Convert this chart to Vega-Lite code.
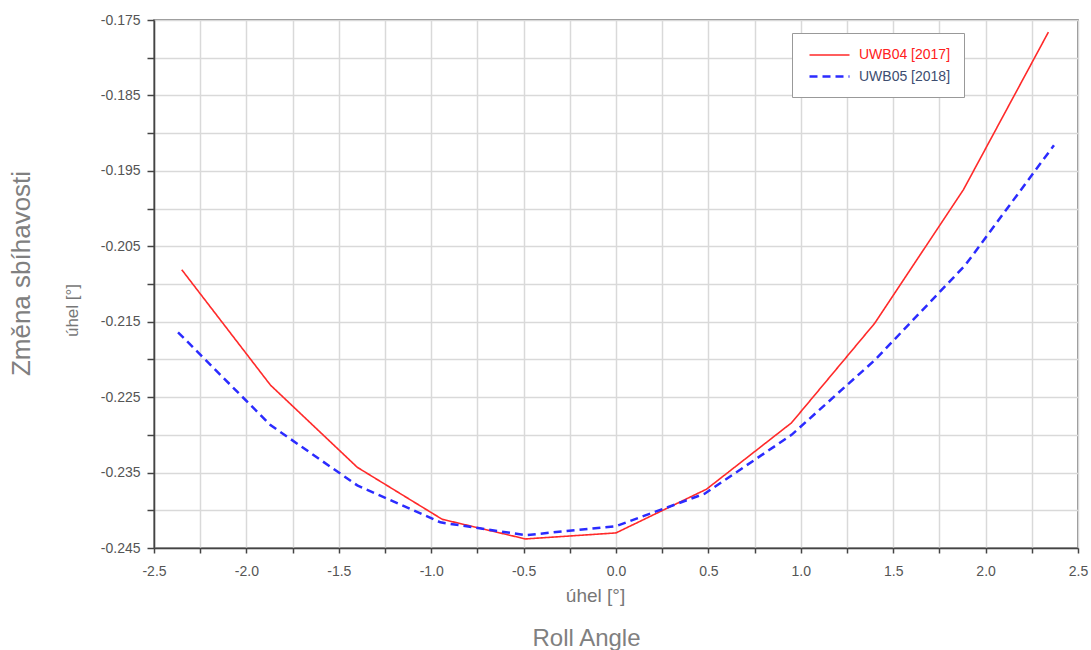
{
  "$schema": "https://vega.github.io/schema/vega-lite/v6.json",
  "width": 924,
  "height": 528,
  "autosize": "none",
  "padding": {"left": 154, "top": 20, "right": 13, "bottom": 102},
  "background": "white",
  "config": {
    "font": "Liberation Sans",
    "view": {"stroke": "#666666", "strokeWidth": 1.5},
    "axis": {"labelFont": "Liberation Sans", "titleFont": "Liberation Sans", "titleFontWeight": "normal"}
  },
  "data": {
    "values": [
      {"x": -2.35, "y": -0.2081, "series": "UWB04 [2017]"},
      {"x": -1.87, "y": -0.2234, "series": "UWB04 [2017]"},
      {"x": -1.40, "y": -0.2343, "series": "UWB04 [2017]"},
      {"x": -0.94, "y": -0.2412, "series": "UWB04 [2017]"},
      {"x": -0.49, "y": -0.2438, "series": "UWB04 [2017]"},
      {"x": 0.00, "y": -0.2430, "series": "UWB04 [2017]"},
      {"x": 0.49, "y": -0.2372, "series": "UWB04 [2017]"},
      {"x": 0.95, "y": -0.2284, "series": "UWB04 [2017]"},
      {"x": 1.40, "y": -0.2152, "series": "UWB04 [2017]"},
      {"x": 1.88, "y": -0.1975, "series": "UWB04 [2017]"},
      {"x": 2.34, "y": -0.1766, "series": "UWB04 [2017]"},
      {"x": -2.37, "y": -0.2164, "series": "UWB05 [2018]"},
      {"x": -1.87, "y": -0.2287, "series": "UWB05 [2018]"},
      {"x": -1.40, "y": -0.2367, "series": "UWB05 [2018]"},
      {"x": -0.95, "y": -0.2416, "series": "UWB05 [2018]"},
      {"x": -0.49, "y": -0.2433, "series": "UWB05 [2018]"},
      {"x": 0.00, "y": -0.2421, "series": "UWB05 [2018]"},
      {"x": 0.48, "y": -0.2378, "series": "UWB05 [2018]"},
      {"x": 0.95, "y": -0.2300, "series": "UWB05 [2018]"},
      {"x": 1.40, "y": -0.2201, "series": "UWB05 [2018]"},
      {"x": 1.89, "y": -0.2075, "series": "UWB05 [2018]"},
      {"x": 2.37, "y": -0.1916, "series": "UWB05 [2018]"}
    ]
  },
  "resolve": {"axis": {"x": "independent", "y": "independent"}},
  "layer": [
    {
      "mark": {"type": "line", "clip": true},
      "encoding": {
        "x": {
          "field": "x", "type": "quantitative",
          "scale": {"domain": [-2.5, 2.5], "nice": false, "zero": false},
          "axis": {
            "orient": "bottom",
            "values": [-2.5, -2.25, -2, -1.75, -1.5, -1.25, -1, -0.75, -0.5, -0.25, 0, 0.25, 0.5, 0.75, 1, 1.25, 1.5, 1.75, 2, 2.25, 2.5],
            "format": ".1f",
            "labelExpr": "abs(round(datum.value*100)) % 50 == 0 ? replace(datum.label, '\u2212', '-') : ''",
            "title": "úhel [°]",
            "titleX": 441,
            "tickSize": 5, "tickColor": "#444444", "tickWidth": 1.5,
            "domainColor": "#444444", "domainWidth": 1.5,
            "labelFontSize": 14, "labelColor": "#555555", "labelPadding": 11,
            "labelFlush": false, "labelOverlap": false,
            "titleFontSize": 19, "titleColor": "#777777", "titlePadding": 8,
            "gridColor": "#d9d9d9", "gridWidth": 1.5
          }
        },
        "y": {
          "field": "y", "type": "quantitative",
          "scale": {"domain": [-0.245, -0.175], "nice": false, "zero": false},
          "axis": {
            "orient": "left",
            "values": [-0.245, -0.24, -0.235, -0.23, -0.225, -0.22, -0.215, -0.21, -0.205, -0.2, -0.195, -0.19, -0.185, -0.18, -0.175],
            "format": ".3f",
            "labelExpr": "abs(round(datum.value*1000)) % 10 == 5 ? replace(datum.label, '\u2212', '-') : ''",
            "title": "úhel [°]",
            "titleY": 290,
            "tickSize": 7, "tickColor": "#444444", "tickWidth": 1.5,
            "domainColor": "#444444", "domainWidth": 1.5,
            "labelFontSize": 14, "labelColor": "#555555", "labelPadding": 7,
            "labelFlush": false, "labelOverlap": false,
            "titleFontSize": 17, "titleColor": "#777777", "titlePadding": 19,
            "gridColor": "#d9d9d9", "gridWidth": 1.5
          }
        },
        "color": {
          "field": "series", "type": "nominal",
          "scale": {"domain": ["UWB04 [2017]", "UWB05 [2018]"], "range": ["#ff2a2a", "#2b2bff"]},
          "legend": {
            "orient": "none", "legendX": 638, "legendY": 13, "title": null,
            "fillColor": "white", "strokeColor": "#999999", "padding": 13,
            "symbolType": "M-2.5,0H2.5", "symbolSize": 256, "symbolStrokeWidth": 1.5,
            "symbolOffset": 15,
            "labelFontSize": 14, "labelOffset": 20, "rowPadding": 5,
            "encode": {
              "labels": {"update": {"fill": {"signal": "indexof(datum.label, 'UWB04') >= 0 ? '#ff2020' : '#3d4d70'"}}},
              "symbols": {"update": {
                "stroke": {"signal": "indexof(datum.label, 'UWB04') >= 0 ? '#ff2020' : '#3d4d70'"},
                "strokeWidth": {"value": 1.5}
              }}
            }
          }
        },
        "strokeDash": {
          "field": "series", "type": "nominal",
          "scale": {"domain": ["UWB04 [2017]", "UWB05 [2018]"], "range": [[1, 0], [8, 5]]}
        },
        "strokeWidth": {
          "field": "series", "type": "nominal",
          "scale": {"domain": ["UWB04 [2017]", "UWB05 [2018]"], "range": [1.6, 2.5]}
        }
      }
    },
    {
      "mark": {"type": "line", "opacity": 0},
      "encoding": {
        "x": {
          "field": "x", "type": "quantitative",
          "axis": {"orient": "bottom", "title": "Roll Angle", "titleX": 432, "labels": false, "ticks": false, "domain": false, "grid": false,
                   "titleFontSize": 24, "titleColor": "#808080", "titlePadding": 78}
        },
        "y": {
          "field": "y", "type": "quantitative",
          "axis": {"orient": "left", "title": "Změna sbíhavosti", "titleY": 253, "labels": false, "ticks": false, "domain": false, "grid": false,
                   "titleFontSize": 26, "titleColor": "#808080", "titlePadding": 120}
        },
        "detail": {"field": "series"}
      }
    }
  ]
}
